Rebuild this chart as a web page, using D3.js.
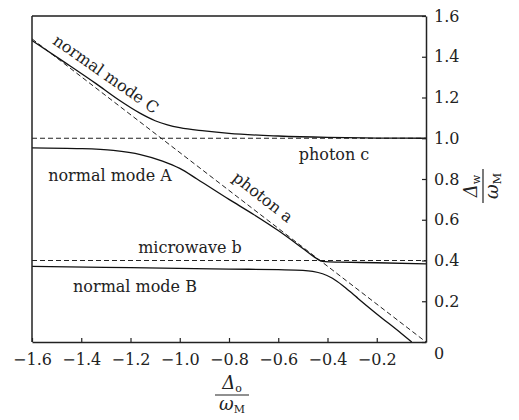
<!DOCTYPE html>
<html>
<head>
<meta charset="utf-8">
<script src="https://cdn.jsdelivr.net/npm/d3@7"></script>
<style>
    body { margin: 0; background: #fff; }
    svg text { font-family: "DejaVu Serif", "Liberation Serif", serif; fill: #222; }
</style>
</head>
<body>
<div id="chart"></div>
<script>
// values
const xTicks = [-1.6, -1.4, -1.2, -1.0, -0.8, -0.6, -0.4, -0.2];
const yTicks = [0, 0.2, 0.4, 0.6, 0.8, 1.0, 1.2, 1.4, 1.6];

const photonA = [[-1.6, 1.488], [0, 0]];
const photonC = [[-1.6, 1.0], [0, 1.0]];
const microwaveB = [[-1.6, 0.4], [0, 0.4]];

const modeC = [[-1.6, 1.48], [-1.47, 1.375], [-1.34, 1.268], [-1.25, 1.19], [-1.16, 1.122],
    [-1.1, 1.086], [-1.05, 1.066], [-1.0, 1.052], [-0.9, 1.036], [-0.8, 1.024],
    [-0.6, 1.011], [-0.4, 1.004], [-0.2, 1.001], [0, 1.0]];

const modeA = [[-1.6, 0.953], [-1.4, 0.949], [-1.27, 0.94], [-1.16, 0.92], [-1.07, 0.888],
    [-1.0, 0.852], [-0.93, 0.8], [-0.8, 0.7], [-0.7, 0.626], [-0.6, 0.547],
    [-0.5, 0.459], [-0.45, 0.414], [-0.43, 0.399], [-0.41, 0.394], [-0.35, 0.392],
    [-0.2, 0.389], [0, 0.383]];

const modeB = [[-1.6, 0.371], [-1.2, 0.365], [-0.8, 0.358], [-0.6, 0.355], [-0.5, 0.352],
    [-0.46, 0.347], [-0.42, 0.335], [-0.38, 0.313], [-0.34, 0.279], [-0.3, 0.239],
    [-0.276, 0.214], [-0.2, 0.138], [-0.1, 0.042], [-0.058, 0]];

const svgWidth = 519;
const svgHeight = 420;
const plotLeft = 32, plotRight = 426, plotTop = 16, plotBottom = 342;

const svg = d3.select("#chart")
    .append("svg")
    .attr("width", svgWidth)
    .attr("height", svgHeight);

const xScale = d3.scaleLinear().domain([-1.6, 0]).range([plotLeft, plotRight]);
const yScale = d3.scaleLinear().domain([0, 1.6]).range([plotBottom, plotTop]);

const line = d3.line()
    .x(d => xScale(d[0]))
    .y(d => yScale(d[1]))
    .curve(d3.curveMonotoneX);

// dashed bare modes
[photonA, photonC, microwaveB].forEach(data => {
    svg.append("path")
        .datum(data)
        .attr("d", line)
        .attr("fill", "none")
        .attr("stroke", "#222")
        .attr("stroke-width", 1)
        .attr("stroke-dasharray", "5,3");
});

// normal modes
[modeC, modeA, modeB].forEach(data => {
    svg.append("path")
        .datum(data)
        .attr("d", line)
        .attr("fill", "none")
        .attr("stroke", "#111")
        .attr("stroke-width", 1.3);
});

// frame: top and left
svg.append("line")
    .attr("x1", plotLeft).attr("x2", plotRight).attr("y1", plotTop).attr("y2", plotTop)
    .attr("stroke", "#555").attr("stroke-width", 2);
svg.append("line")
    .attr("x1", plotLeft).attr("x2", plotLeft).attr("y1", plotTop).attr("y2", plotBottom)
    .attr("stroke", "#222").attr("stroke-width", 1.5);

const xAxisGroup = svg.append("g")
    .attr("transform", `translate(0, ${plotBottom})`)
    .call(d3.axisBottom(xScale)
        .tickValues(xTicks)
        .tickFormat(d3.format(".1f"))
        .tickSizeInner(-4)
        .tickSizeOuter(0)
        .tickPadding(12));

const yAxisGroup = svg.append("g")
    .attr("transform", `translate(${plotRight}, 0)`)
    .call(d3.axisRight(yScale)
        .tickValues(yTicks)
        .tickFormat(d => d === 0 ? "0" : d3.format(".1f")(d))
        .tickSizeInner(-4)
        .tickSizeOuter(0)
        .tickPadding(8));

[xAxisGroup, yAxisGroup].forEach(g => {
    g.select(".domain").attr("stroke", "#222").attr("stroke-width", 1.5);
    g.selectAll(".tick line").attr("stroke", "#222").attr("stroke-width", 1.2);
    g.selectAll("text")
        .attr("fill", "#222")
        .attr("font-size", "16px")
        .attr("font-family", "DejaVu Serif");
});

yAxisGroup.selectAll(".tick text")
    .filter(d => d === 0)
    .attr("dy", "1.05em");

// curve labels
const labels = [
    { text: "normal mode C", x: 106, y: 74, angle: 35 },
    { text: "normal mode A", x: 110, y: 175, angle: 0 },
    { text: "photon a", x: 263, y: 197, angle: 38 },
    { text: "photon c", x: 334, y: 154, angle: 0 },
    { text: "microwave b", x: 190, y: 247, angle: 0 },
    { text: "normal mode B", x: 135, y: 286, angle: 0 }
];

labels.forEach(l => {
    svg.append("text")
        .attr("x", l.x)
        .attr("y", l.y)
        .attr("dy", "0.35em")
        .attr("text-anchor", "middle")
        .attr("font-size", "16px")
        .attr("transform", `rotate(${l.angle}, ${l.x}, ${l.y})`)
        .text(l.text);
});

// axis label x: Δo / ωM
const xl = svg.append("g").attr("transform", "translate(232, 395)");
const xNum = xl.append("text").attr("y", -6).attr("text-anchor", "middle").attr("font-size", "18px");
xNum.append("tspan").attr("font-style", "italic").text("Δ");
xNum.append("tspan").attr("font-size", "11px").attr("dy", 3).text("o");
xl.append("line").attr("x1", -17).attr("x2", 17).attr("stroke", "#222").attr("stroke-width", 1.2);
const xDen = xl.append("text").attr("y", 15).attr("text-anchor", "middle").attr("font-size", "18px");
xDen.append("tspan").attr("font-style", "italic").text("ω");
xDen.append("tspan").attr("font-size", "11px").attr("dy", 3).text("M");

// axis label y: Δw / ωM (rotated)
const yl = svg.append("g").attr("transform", "translate(483, 186) rotate(-90)");
const yNum = yl.append("text").attr("y", -6).attr("text-anchor", "middle").attr("font-size", "18px");
yNum.append("tspan").attr("font-style", "italic").text("Δ");
yNum.append("tspan").attr("font-size", "11px").attr("dy", 3).text("w");
yl.append("line").attr("x1", -17).attr("x2", 17).attr("stroke", "#222").attr("stroke-width", 1.2);
const yDen = yl.append("text").attr("y", 15).attr("text-anchor", "middle").attr("font-size", "18px");
yDen.append("tspan").attr("font-style", "italic").text("ω");
yDen.append("tspan").attr("font-size", "11px").attr("dy", 3).text("M");
</script>
</body>
</html>
